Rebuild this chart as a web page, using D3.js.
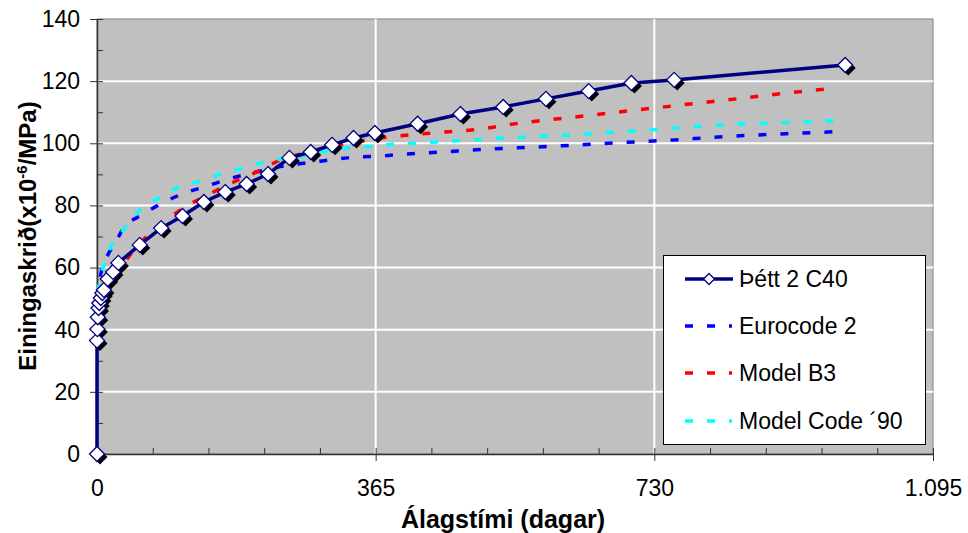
<!DOCTYPE html>
<html>
<head>
<meta charset="utf-8">
<script src="https://cdnjs.cloudflare.com/ajax/libs/d3/7.8.5/d3.min.js"></script>
<style>
  body { margin: 0; background: #fff; }
  text { font-family: Arial, "Liberation Sans", sans-serif; }
</style>
</head>
<body>
<svg width="968" height="533"></svg>
<script>
// measured series (days, 10^-6/MPa)
const testDays = [0, 0.01, 0.5, 1, 2, 3, 5, 7, 9, 14, 21, 28, 56, 84, 112, 140, 168, 196, 224, 252, 280, 308, 336, 364, 420, 476, 532, 588, 644, 700, 756, 980];
const testVals = [0, 36.5, 40.2, 44, 47, 48.6, 50.2, 51.8, 52.8, 56.3, 58.6, 61.5, 67.3, 72.7, 76.6, 81.1, 84.3, 86.9, 90.1, 95.3, 97.2, 99.5, 101.7, 103.3, 106.3, 109.4, 111.7, 114.3, 116.8, 119.4, 120.4, 125.2];

const ec2Days = [1, 3, 7, 14, 24, 34, 59, 86, 115, 145, 172, 203, 236, 263, 295, 340, 373, 401, 432, 519, 576, 633, 692, 750, 807, 866, 924, 966];
const ec2Vals = [50, 55, 60, 64, 68, 72.4, 77, 80.8, 84, 86.3, 88.5, 90.4, 92.3, 93.3, 94.3, 95.6, 95.9, 96.5, 96.9, 98.2, 98.8, 99.5, 100.3, 101, 101.9, 102.7, 103.3, 103.7];

const b3Days = [1, 3, 7, 14, 24, 43, 63, 109, 158, 185, 211, 240, 268, 296, 325, 353, 381, 410, 439, 502, 554, 613, 670, 728, 786, 845, 901, 959, 966];
const b3Vals = [44, 48, 51, 54, 57, 64, 69.5, 78.5, 85, 88.2, 91, 94.6, 96.6, 98.2, 99.8, 101, 102, 102.7, 103.3, 104.6, 106.5, 108.1, 109.7, 111.3, 112.9, 114.5, 116.1, 117.6, 117.8];

const mc90Days = [1, 3, 8, 17, 34, 54, 76, 102, 131, 158, 185, 214, 242, 270, 299, 329, 358, 387, 414, 445, 502, 561, 617, 707, 764, 822, 881, 938, 968];
const mc90Vals = [52, 55, 60, 66, 72, 78, 81.7, 85.3, 87.5, 89.8, 91.7, 93.6, 95, 96, 97.4, 98.5, 99, 99.7, 100, 100.4, 101.3, 102, 102.7, 104, 105, 106, 106.5, 107, 107.3];

const seriesNames = ["Þétt 2 C40", "Eurocode 2", "Model B3", "Model Code ´90"];
const xTicks = [0, 365, 730, 1095];
const xTickLabels = ["0", "365", "730", "1.095"];
const yTicks = [0, 20, 40, 60, 80, 100, 120, 140];

const svg = d3.select("svg");
const pL = 97, pR = 933, pT = 19, pB = 454;

const x = d3.scaleLinear().domain([0, 1095]).range([pL, pR]);
const y = d3.scaleLinear().domain([0, 140]).range([pB, pT]);

// plot area
svg.append("rect")
  .attr("x", pL).attr("y", pT)
  .attr("width", pR - pL).attr("height", pB - pT)
  .attr("fill", "#c0c0c0").attr("stroke", "#808080").attr("stroke-width", 1);

// grid
svg.append("g").selectAll("line")
  .data(yTicks.filter(d => d > 0 && d < 140))
  .enter().append("line")
  .attr("x1", pL).attr("x2", pR)
  .attr("y1", d => y(d)).attr("y2", d => y(d))
  .attr("stroke", "#fff").attr("stroke-width", 2);
svg.append("g").selectAll("line")
  .data(xTicks.filter(d => d > 0 && d < 1095))
  .enter().append("line")
  .attr("y1", pT).attr("y2", pB)
  .attr("x1", d => x(d)).attr("x2", d => x(d))
  .attr("stroke", "#fff").attr("stroke-width", 2);

// axes
const yMinor = d3.range(0, 141, 10);
const xMinor = d3.range(0, 1096, 73);

svg.append("g").attr("transform", `translate(${pL},0)`)
  .call(d3.axisLeft(y).tickValues(yMinor).tickSize(-6).tickFormat(""))
  .call(g => g.select(".domain").remove())
  .selectAll("line").attr("stroke", "#333");
svg.append("g").attr("transform", `translate(0,${pB})`)
  .call(d3.axisBottom(x).tickValues(xMinor).tickSize(-6).tickFormat(""))
  .call(g => g.select(".domain").remove())
  .selectAll("line").attr("stroke", "#333");

const yAxis = svg.append("g").attr("transform", `translate(${pL},0)`)
  .call(d3.axisLeft(y).tickValues(yTicks).tickSizeInner(7).tickSizeOuter(0).tickPadding(10));
const xAxis = svg.append("g").attr("transform", `translate(0,${pB})`)
  .call(d3.axisBottom(x).tickValues(xTicks).tickSizeInner(7).tickSizeOuter(0).tickPadding(19)
    .tickFormat((d, i) => xTickLabels[i]));
[yAxis, xAxis].forEach(g => {
  g.select(".domain").attr("stroke", "#333").attr("stroke-width", 1.5);
  g.selectAll("line").attr("stroke", "#333");
  g.selectAll("text").attr("font-size", 23).attr("fill", "#000")
    .attr("font-family", "Arial, 'Liberation Sans', sans-serif");
});

// axis titles
svg.append("text")
  .attr("x", (pL + pR) / 2 - 12).attr("y", 528)
  .attr("text-anchor", "middle").attr("font-size", 25).attr("font-weight", "bold")
  .text("Álagstími (dagar)");

const yt = svg.append("text")
  .attr("transform", "translate(36,236) rotate(-90)")
  .attr("text-anchor", "middle").attr("font-size", 24).attr("font-weight", "bold");
yt.append("tspan").text("Einingaskrið(x10");
yt.append("tspan").attr("dy", -9).attr("font-size", 15).text("-6");
yt.append("tspan").attr("dy", 9).text("/MPa)");

// model curves
const line = d3.line().x(d => x(d[0])).y(d => y(d[1]));
const models = [
  { days: ec2Days, vals: ec2Vals, color: "#0000ff" },
  { days: b3Days, vals: b3Vals, color: "#ff0000" },
  { days: mc90Days, vals: mc90Vals, color: "#00ffff" }
];
models.forEach(m => {
  svg.append("path")
    .datum(m.days.map((d, i) => [d, m.vals[i]]))
    .attr("d", line.curve(d3.curveMonotoneX))
    .attr("fill", "none").attr("stroke", m.color)
    .attr("stroke-width", 3.5).attr("stroke-dasharray", "8,14");
});

// test series
const testData = testDays.map((d, i) => [d, testVals[i]]);
svg.append("path")
  .datum(testData)
  .attr("d", d3.line().x(d => x(d[0])).y(d => y(d[1])))
  .attr("fill", "none").attr("stroke", "#000080").attr("stroke-width", 3.5);

const diamond = r => `M0,${-r}L${r},0L0,${r}L${-r},0Z`;
const marks = svg.append("g");
marks.selectAll("path.sh").data(testData).enter().append("path")
  .attr("class", "sh")
  .attr("transform", d => `translate(${x(d[0]) + 3},${y(d[1]) + 3})`)
  .attr("d", diamond(7.5)).attr("fill", "#000");
marks.selectAll("path.mk").data(testData).enter().append("path")
  .attr("class", "mk")
  .attr("transform", d => `translate(${x(d[0])},${y(d[1])})`)
  .attr("d", diamond(7.5)).attr("fill", "#fff")
  .attr("stroke", "#000080").attr("stroke-width", 1.3);

// legend
const lg = svg.append("g");
lg.append("rect").attr("x", 663.5).attr("y", 255.5).attr("width", 262).attr("height", 189)
  .attr("fill", "#fff").attr("stroke", "#000").attr("stroke-width", 1);
const rowY = [279, 326, 373, 421];
const legColors = ["#000080", "#0000ff", "#ff0000", "#00ffff"];
seriesNames.forEach((name, i) => {
  const ly = rowY[i];
  const l = lg.append("line").attr("x1", 685).attr("x2", i === 0 ? 733 : 732)
    .attr("y1", ly).attr("y2", ly).attr("stroke", legColors[i])
    .attr("stroke-width", 3.5);
  if (i > 0) l.attr("stroke-dasharray", "8,14");
  if (i === 0) {
    lg.append("path").attr("transform", `translate(709,${ly})`)
      .attr("d", diamond(5.5)).attr("fill", "#fff")
      .attr("stroke", "#000080").attr("stroke-width", 1.3);
  }
  lg.append("text").attr("x", 739).attr("y", ly + 8)
    .attr("font-size", 23).attr("fill", "#000").text(name);
});
</script>
</body>
</html>
